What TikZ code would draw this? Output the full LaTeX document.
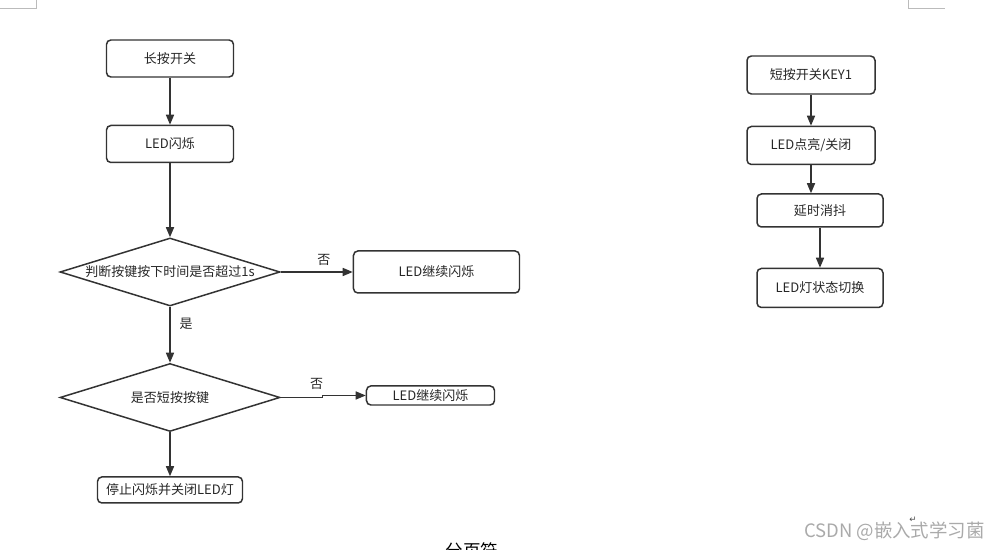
\documentclass[tikz,border=0pt]{standalone}
\usepackage{fontspec}
\setmainfont{Noto Sans CJK SC}
\newfontfamily\symfont{DejaVu Sans}
\usepackage{xcolor}
\usetikzlibrary{shapes.geometric, arrows.meta, positioning}

\definecolor{linegray}{HTML}{333333}
\definecolor{markgray}{HTML}{BBBBBB}
\definecolor{wmgray}{HTML}{AAAAAA}

\begin{document}
\begin{tikzpicture}[
    proc/.style={rectangle, rounded corners=2.5pt, draw=linegray, line width=0.85pt,
                 minimum width=#1, align=center, inner sep=2pt,
                 font=\fontsize{7.4pt}{9pt}\selectfont, text=black!85},
    proc/.default={2.54cm},
    decision/.style={diamond, draw=linegray, line width=0.85pt, aspect=3.2,
                     minimum width=4.4cm, minimum height=1.36cm, inner sep=0pt,
                     font=\fontsize{7.4pt}{9pt}\selectfont, text=black!85},
    arr/.style={-{Triangle[length=0.2cm, width=0.16cm]}, line width=0.85pt, linegray},
    lbl/.style={font=\fontsize{7.4pt}{9pt}\selectfont, text=black!85, inner sep=1pt}
]
\useasboundingbox (0,0) rectangle (19.88,-11);

% --- page corner marks ---
\draw[markgray, line width=0.5pt] (0,-0.16) -- (0.72,-0.16) -- (0.72,0);
\draw[markgray, line width=0.5pt] (18.16,0) -- (18.16,-0.16) -- (18.90,-0.16);

% --- long press flow ---
\node[proc, minimum height=0.74cm] (start) at (3.40,-1.17) {长按开关};
\node[proc, minimum height=0.74cm, below=0.94cm of start] (blink) {LED闪烁};
\node[decision, below=1.48cm of blink] (check) {判断按键按下时间是否超过1s};
\node[proc=3.32cm, minimum height=0.84cm, right=1.44cm of check] (keepA) {LED继续闪烁};
\node[decision, below=1.12cm of check] (short) {是否短按按键};
\node[proc=2.56cm, minimum height=0.38cm, right=1.70cm of short, yshift=0.04cm] (keepB) {LED继续闪烁};
\node[proc=2.9cm, minimum height=0.52cm, below=0.88cm of short] (stop) {停止闪烁并关闭LED灯};

\draw[arr] (start) -- (blink);
\draw[arr] (blink) -- (check);
\draw[arr] (check) -- node[lbl, above=2pt, pos=0.6] {否} (keepA);
\draw[arr] (check) -- node[lbl, right=4pt, pos=0.3] {是} (short);
\draw[arr] (short.east) -- ([xshift=0.84cm]short.east) |- (keepB.west);
\node[lbl] (no2) at ([xshift=0.72cm, yshift=0.28cm]short.east) {否};
\draw[arr] (short) -- (stop);

% --- short press flow ---
\node[proc=2.56cm, minimum height=0.76cm] (key) at (16.22,-1.50) {短按开关KEY1};
\node[proc=2.56cm, minimum height=0.76cm, below=0.62cm of key] (toggle) {LED点亮/关闭};
\node[proc=2.52cm, minimum height=0.66cm, below=0.56cm of toggle, xshift=0.18cm] (debounce) {延时消抖};
\node[proc=2.52cm, minimum height=0.78cm, below=0.80cm of debounce] (switch) {LED灯状态切换};

\draw[arr] (key) -- (toggle);
\draw[arr] (toggle.south) -- (toggle.south |- debounce.north);
\draw[arr] (debounce) -- (switch);

% --- page footer and watermark ---
\node[font=\fontsize{10pt}{12pt}\selectfont, text=black] (pagebreak) at (9.44,-11.02) {分页符};
\node[font=\symfont\fontsize{5pt}{6pt}\selectfont, text=black!70] (para) at (18.26,-10.40) {↵};
\node[font=\fontsize{10.5pt}{12pt}\selectfont, text=wmgray, anchor=east] (wm) at (19.82,-10.62) {CSDN @嵌入式学习菌};

\end{tikzpicture}
\end{document}
